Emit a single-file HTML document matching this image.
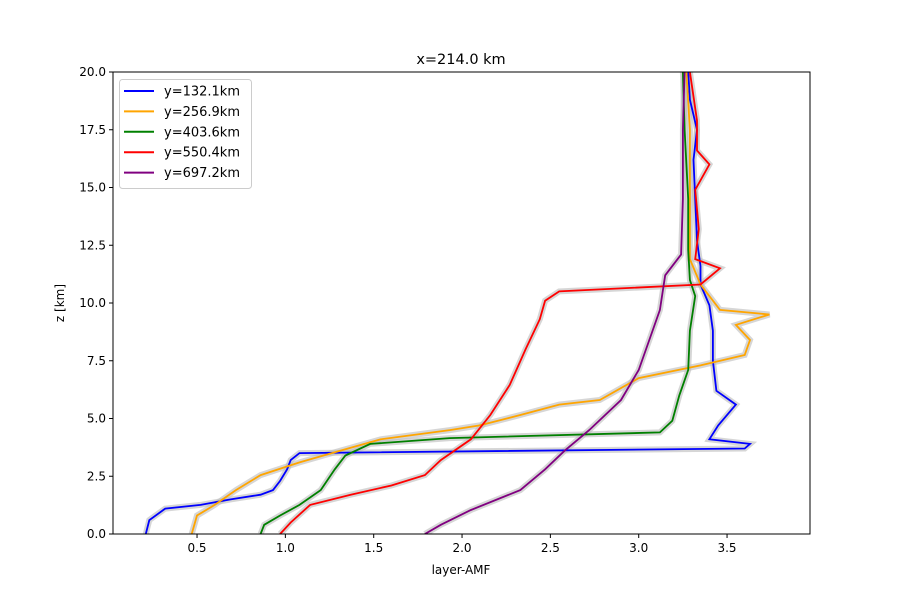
<!DOCTYPE html>
<html><head><meta charset="utf-8"><style>
body{margin:0;background:#fff;font-family:"Liberation Sans","DejaVu Sans",sans-serif}
</style></head><body>
<svg id="chart" width="900" height="600" xmlns="http://www.w3.org/2000/svg" font-family="DejaVu Sans, Liberation Sans, sans-serif">
<rect width="900" height="600" fill="#fff"/>
<g id="plot"></g>
</svg>
<script>
const seriesNames=["y=132.1km","y=256.9km","y=403.6km","y=550.4km","y=697.2km"];
const seriesColors=["blue","orange","green","red","purple"];
const blueAmf=[0.21,0.23,0.32,0.52,0.69,0.86,0.93,0.97,1.01,1.03,1.08,3.6,3.63,3.4,3.45,3.55,3.44,3.42,3.42,3.4,3.35,3.35,3.33,3.32,3.31,3.33,3.29,3.28];
const blueZ=[0,0.6,1.1,1.26,1.5,1.7,1.9,2.3,2.8,3.2,3.5,3.7,3.9,4.1,4.7,5.6,6.2,7.5,8.8,9.9,10.8,11.6,12.7,14.5,16.2,17.5,18.8,20];
const orangeAmf=[0.47,0.5,0.6,0.72,0.86,1.08,1.31,1.54,1.93,2.1,2.33,2.55,2.78,3.0,3.35,3.6,3.63,3.55,3.74,3.46,3.35,3.29,3.29,3.29,3.27];
const orangeZ=[0,0.8,1.26,1.9,2.55,3.1,3.6,4.1,4.5,4.7,5.15,5.6,5.8,6.75,7.3,7.75,8.4,9.05,9.5,9.7,10.8,11.9,14.5,17.5,20];
const greenAmf=[0.86,0.88,0.97,1.08,1.2,1.28,1.34,1.48,1.93,3.12,3.19,3.23,3.28,3.29,3.32,3.29,3.28,3.28,3.26,3.25];
const greenZ=[0,0.4,0.8,1.26,1.9,2.8,3.4,3.9,4.15,4.4,4.9,6.0,7.1,8.8,10.3,11.0,12.3,14.5,17.5,20];
const redAmf=[0.97,1.03,1.14,1.37,1.6,1.79,1.88,2.05,2.16,2.27,2.36,2.44,2.47,2.55,3.35,3.46,3.32,3.34,3.32,3.4,3.33,3.33,3.29];
const redZ=[0,0.5,1.26,1.7,2.1,2.55,3.2,4.1,5.15,6.45,8.0,9.3,10.1,10.5,10.8,11.5,11.9,13.2,14.9,16.0,16.6,17.9,20];
const purpleAmf=[1.79,1.88,2.05,2.33,2.47,2.58,2.72,2.9,3.0,3.06,3.12,3.15,3.24,3.25,3.25,3.26];
const purpleZ=[0,0.4,1.04,1.9,2.8,3.6,4.5,5.8,7.1,8.4,9.7,11.2,12.1,14.5,17.5,20];
const xTicks=[0.5,1.0,1.5,2.0,2.5,3.0,3.5];
const yTicks=[0,2.5,5,7.5,10,12.5,15,17.5,20];

const L=113,R=810,T=72,B=534;
const X=v=>108.7+v*176.67;
const Y=v=>534-v*23.1;
const NS="http://www.w3.org/2000/svg";
const g=document.getElementById('plot');
function mk(t,a,p){const e=document.createElementNS(NS,t);for(const k in a)e.setAttribute(k,a[k]);(p||g).appendChild(e);return e;}
const allAmf=[blueAmf,orangeAmf,greenAmf,redAmf,purpleAmf];
const allZ=[blueZ,orangeZ,greenZ,redZ,purpleZ];
const clip=mk('clipPath',{id:'cp'});mk('rect',{x:L,y:T,width:R-L,height:B-T},clip);
allAmf.forEach((a,i)=>{
  const d=a.map((v,j)=>(j?'L':'M')+X(v).toFixed(1)+','+Y(allZ[i][j]).toFixed(1)).join('');
  const band=mk('path',{d:d,fill:'none',stroke:'#bbb','stroke-width':6,'stroke-opacity':0.6,'clip-path':'url(#cp)'});
  
  
});
allAmf.forEach((a,i)=>{
  const d=a.map((v,j)=>(j?'L':'M')+X(v).toFixed(1)+','+Y(allZ[i][j]).toFixed(1)).join('');
  const p=mk('path',{d:d,fill:'none',stroke:seriesColors[i],'stroke-width':1.8,'clip-path':'url(#cp)'});
  
  
});
const fr=mk('rect',{x:L,y:T,width:R-L,height:B-T,fill:'none',stroke:'#000','stroke-width':1});


xTicks.forEach(v=>{
  mk('line',{x1:X(v),x2:X(v),y1:B,y2:B+4,stroke:'#000'});
  const t=mk('text',{x:X(v),y:B+18,'text-anchor':'middle','font-size':12});
  t.textContent=v.toFixed(1);
  
  
});
yTicks.forEach(v=>{
  mk('line',{x1:L-4,x2:L,y1:Y(v),y2:Y(v),stroke:'#000'});
  const t=mk('text',{x:L-7,y:Y(v)+4,'text-anchor':'end','font-size':12});
  t.textContent=v.toFixed(1);
  
  
});
let t=mk('text',{x:461,y:64,'text-anchor':'middle','font-size':14.5});t.textContent='x=214.0 km';


t=mk('text',{x:461,y:574,'text-anchor':'middle','font-size':12});t.textContent='layer-AMF';


t=mk('text',{x:64,y:303,'text-anchor':'middle','font-size':12,transform:'rotate(-90 64 303)'});t.textContent='z [km]';


const lg=mk('rect',{x:119.5,y:79.5,width:132,height:109,rx:3,fill:'#fff','fill-opacity':0.8,stroke:'#ccc'});


seriesNames.forEach((n,i)=>{
  const yy=91+i*20.4;
  mk('line',{x1:124,x2:154,y1:yy,y2:yy,stroke:seriesColors[i],'stroke-width':2});
  const tt=mk('text',{x:164,y:yy+4.5,'font-size':13});tt.textContent=n;
  
  
});
</script>
</body></html>
